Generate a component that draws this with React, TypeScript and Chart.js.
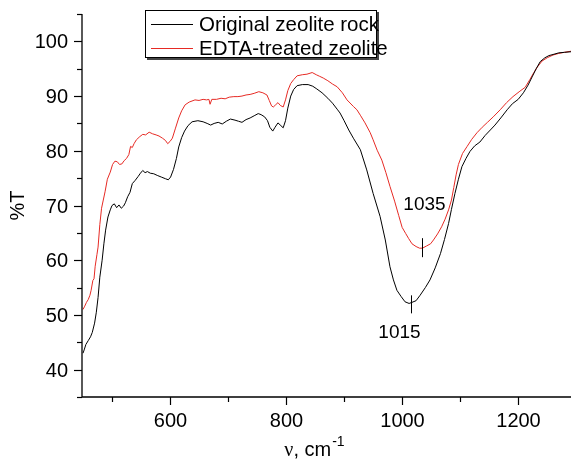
import { useEffect, useRef } from "react";
import { Chart, registerables } from "chart.js";

Chart.register(...registerables);

// ---- data ----
const seriesLabels = ["Original zeolite rock", "EDTA-treated zeolite"];
const seriesColors = ["#000000", "#e62a24"];

const originalX = [
  450, 452, 455, 459, 463, 466, 470, 473, 476, 479, 483, 486, 489, 493, 497, 500, 504, 508, 512, 516,
  520, 523, 527, 531, 535, 540, 545, 549, 553, 557, 561, 566, 572, 578, 585, 592, 597, 601, 606, 611,
  615, 620, 625, 631, 638, 648, 657, 664, 670, 676, 683, 690, 697, 704, 712, 718, 724, 731, 738, 745,
  752, 757, 763, 768, 772, 777, 781, 786, 791, 795, 799, 803, 808, 813, 819, 828, 838, 846, 853, 862,
  872, 880, 888, 893, 900, 908, 916, 928, 939, 950, 962, 971, 979, 985, 991, 998, 1005, 1012, 1017, 1024,
  1031, 1040, 1048, 1057, 1066, 1073, 1080, 1085, 1091, 1097, 1103, 1110, 1117, 1125, 1134, 1143, 1152, 1160, 1170, 1181,
  1190, 1200, 1209, 1217, 1224, 1231, 1238, 1246, 1253, 1260, 1270, 1280, 1291,
];
const originalY = [
  43.0, 43.6, 44.6, 45.3, 46.0, 46.8, 48.5, 50.5, 53.2, 56.9, 60.0, 63.0, 65.5, 67.9, 69.2, 70.0, 70.3, 69.6, 70.1, 69.5,
  69.9, 70.5, 71.6, 72.4, 74.0, 74.6, 75.3, 75.9, 76.4, 76.0, 76.2, 75.9, 75.8, 75.5, 75.2, 74.9, 74.7, 75.2, 76.6, 78.6,
  80.7, 82.4, 83.6, 84.6, 85.3, 85.5, 85.3, 85.0, 84.7, 85.0, 85.2, 84.9, 85.4, 85.8, 85.6, 85.4, 85.2, 85.7, 86.0, 86.4,
  86.8, 86.6, 86.2, 85.5, 84.3, 83.6, 84.3, 85.1, 84.6, 84.2, 85.5, 87.8, 90.0, 91.2, 91.9, 92.1, 92.1, 91.8, 91.3, 90.6,
  89.6, 88.7, 87.6, 86.9, 85.5, 83.8, 82.3, 80.2, 76.5, 72.2, 68.0, 63.7, 58.8, 56.4, 54.5, 53.4, 52.4, 52.1, 52.3, 52.6,
  53.6, 55.0, 56.4, 58.6, 61.2, 63.8, 66.7, 69.3, 72.2, 74.8, 77.1, 78.6, 79.9, 80.9, 81.6, 82.8, 83.8, 84.7, 86.0, 87.5,
  88.6, 89.4, 90.6, 92.0, 93.5, 95.0, 96.3, 97.0, 97.4, 97.6, 97.9, 98.0, 98.1,
];

const edtaX = [
  450, 453, 456, 459, 462, 464, 467, 469, 471, 474, 476, 479, 482, 485, 488, 492, 497, 501, 505, 509,
  513, 517, 521, 525, 529, 532, 535, 538, 542, 548, 553, 558, 564, 570, 576, 581, 587, 592, 596, 600,
  604, 609, 615, 620, 626, 633, 643, 650, 657, 663, 667, 669, 672, 680, 688, 695, 702, 710, 717, 724,
  731, 738, 745, 753, 760, 767, 771, 775, 778, 782, 786, 790, 795, 799, 803, 808, 813, 819, 828, 836,
  845, 852, 858, 864, 872, 880, 888, 897, 905, 916, 922, 928, 936, 945, 950, 957, 965, 972, 979, 987,
  994, 1000, 1006, 1011, 1017, 1024, 1030, 1035, 1042, 1049, 1054, 1061, 1068, 1074, 1080, 1085, 1089, 1093, 1097, 1104,
  1112, 1120, 1129, 1138, 1147, 1157, 1169, 1180, 1191, 1203, 1212, 1220, 1227, 1233, 1241, 1250, 1260, 1270, 1280, 1291,
];
const edtaY = [
  51.0, 51.6, 52.3, 52.8, 53.6, 54.5, 56.3, 56.6, 58.9, 61.0, 62.4, 66.5, 69.5, 71.0, 72.5, 74.8, 76.1, 77.5, 78.1, 78.0,
  77.5, 77.6, 78.2, 78.6, 79.3, 80.8, 80.6, 81.3, 82.0, 82.6, 83.0, 82.9, 83.4, 83.1, 82.9, 82.7, 82.3, 81.9, 81.3, 81.7,
  82.3, 84.0, 86.0, 87.3, 88.4, 88.9, 89.3, 89.2, 89.4, 89.3, 89.4, 88.5, 89.4, 89.4, 89.6, 89.5, 89.8, 89.9, 89.9, 90.0,
  90.2, 90.3, 90.5, 90.8, 90.6, 90.2, 89.2, 88.2, 88.0, 88.4, 88.8, 88.3, 88.0, 89.3, 91.0, 92.3, 93.0, 93.7, 93.9, 94.0,
  94.3, 93.9, 93.6, 93.3, 92.8, 92.2, 91.7, 90.6, 89.3, 88.1, 87.5, 86.5, 85.1, 83.3, 82.0, 80.1, 78.3, 76.0, 73.5, 70.8,
  68.2, 66.0, 64.9, 64.0, 63.0, 62.5, 62.2, 62.2, 62.6, 63.0, 63.7, 64.8, 66.1, 67.5, 69.2, 71.0, 73.3, 75.6, 77.5, 79.5,
  80.8, 82.1, 83.3, 84.3, 85.2, 86.2, 87.5, 88.8, 89.9, 90.9, 91.6, 93.0, 94.3, 95.3, 96.4, 97.0, 97.5, 97.8, 98.0, 98.2,
];

const xMajorTicks = [600, 800, 1000, 1200];
const xMinorTicks = [500, 700, 900, 1100];
const yMajorTicks = [40, 50, 60, 70, 80, 90, 100];
const yMinorTicks = [35, 45, 55, 65, 75, 85, 95, 105];

const xRange = [448.3, 1291];
const yRange = [35, 105];

const peakWavenumbers = [1015, 1035];
const peakValues = [52.3, 62.2];

const yTitle = "%T";
const xTitleMain = "cm";
const xTitleSup = "-1";

const SANS = '"Liberation Sans", Arial, sans-serif';
const SERIF = '"Liberation Serif", "Times New Roman", serif';

const overlay = {
  id: "overlay",
  afterDraw(chart: any) {
    const ctx: CanvasRenderingContext2D = chart.ctx;
    const xs = chart.scales.x;
    const ys = chart.scales.y;
    const { left, right, top, bottom } = chart.chartArea;
    ctx.save();
    ctx.strokeStyle = "#000";
    ctx.fillStyle = "#000";
    ctx.lineWidth = 1.3;

    // axes
    ctx.beginPath();
    ctx.moveTo(left, top);
    ctx.lineTo(left, bottom);
    ctx.lineTo(right, bottom);
    ctx.stroke();

    ctx.lineWidth = 1.2;
    const vline = (x: number, y1: number, y2: number) => {
      ctx.beginPath();
      ctx.moveTo(x, y1);
      ctx.lineTo(x, y2);
      ctx.stroke();
    };
    const hline = (y: number, x1: number, x2: number) => {
      ctx.beginPath();
      ctx.moveTo(x1, y);
      ctx.lineTo(x2, y);
      ctx.stroke();
    };

    // x ticks
    for (const v of xMinorTicks) vline(Math.round(xs.getPixelForValue(v)) + 0.5, bottom, bottom + 5);
    ctx.font = `20px ${SANS}`;
    ctx.textAlign = "center";
    ctx.textBaseline = "middle";
    for (const v of xMajorTicks) {
      const p = Math.round(xs.getPixelForValue(v)) + 0.5;
      vline(p, bottom, bottom + 8);
      ctx.fillText(String(v), p, bottom + 24);
    }

    // y ticks
    for (const v of yMinorTicks) hline(Math.round(ys.getPixelForValue(v)) + 0.5, left - 5, left);
    ctx.textAlign = "right";
    for (const v of yMajorTicks) {
      const p = Math.round(ys.getPixelForValue(v)) + 0.5;
      hline(p, left - 8, left);
      ctx.fillText(String(v), left - 14, p + 1);
    }

    // y title
    ctx.save();
    ctx.translate(18, (top + bottom) / 2);
    ctx.rotate(-Math.PI / 2);
    ctx.textAlign = "center";
    ctx.textBaseline = "middle";
    ctx.font = `20px ${SANS}`;
    ctx.fillText(yTitle, 0, 0);
    ctx.restore();

    // x title: "ν, cm" with superscript -1
    ctx.textBaseline = "alphabetic";
    ctx.textAlign = "left";
    ctx.font = `20px ${SERIF}`;
    const nu = "ν";
    const wNu = ctx.measureText(nu).width;
    ctx.font = `20px ${SANS}`;
    const rest = ", " + xTitleMain;
    const wRest = ctx.measureText(rest).width;
    ctx.font = `14px ${SANS}`;
    const wSup = ctx.measureText(xTitleSup).width;
    const total = wNu + wRest + 1 + wSup;
    const cx = (left + right) / 2 - 12;
    let tx = cx - total / 2;
    const baseY = 456;
    ctx.font = `20px ${SERIF}`;
    ctx.fillText(nu, tx, baseY);
    tx += wNu;
    ctx.font = `20px ${SANS}`;
    ctx.fillText(rest, tx, baseY);
    tx += wRest + 1;
    ctx.font = `14px ${SANS}`;
    ctx.fillText(xTitleSup, tx, baseY - 10);

    // peak annotations
    ctx.lineWidth = 1;
    ctx.font = `19px ${SANS}`;
    ctx.textAlign = "center";
    ctx.textBaseline = "middle";
    {
      const px = Math.round(xs.getPixelForValue(peakWavenumbers[0])) + 0.5;
      const py = ys.getPixelForValue(peakValues[0]);
      vline(px, py - 7, py + 11);
      ctx.fillText(String(peakWavenumbers[0]), px - 12, py + 30);
    }
    {
      const px = Math.round(xs.getPixelForValue(peakWavenumbers[1])) + 0.5;
      const py = ys.getPixelForValue(peakValues[1]);
      vline(px, py - 10, py + 9);
      ctx.fillText(String(peakWavenumbers[1]), px + 2, py - 43);
    }

    // legend
    const bx = 145, by = 10, bw = 232, bh = 48;
    ctx.fillStyle = "#444";
    ctx.fillRect(bx + bw, by + 2, 2, bh);
    ctx.fillRect(bx + 2, by + bh, bw, 2);
    ctx.fillStyle = "#fff";
    ctx.fillRect(bx, by, bw, bh);
    ctx.strokeStyle = "#000";
    ctx.lineWidth = 1;
    ctx.strokeRect(bx + 0.5, by + 0.5, bw - 1, bh - 1);
    ctx.font = `20.5px ${SANS}`;
    ctx.textAlign = "left";
    ctx.textBaseline = "middle";
    seriesLabels.forEach((lab, i) => {
      const ly = by + 14 + i * 24;
      ctx.strokeStyle = seriesColors[i];
      ctx.beginPath();
      ctx.moveTo(151, ly + 0.5);
      ctx.lineTo(193, ly + 0.5);
      ctx.stroke();
      ctx.fillStyle = "#000";
      ctx.fillText(lab, 199, ly + 1);
    });
    ctx.restore();
  },
};

export default function App() {
  const ref = useRef<HTMLCanvasElement>(null);
  useEffect(() => {
    const canvas = ref.current!;
    const chart = new Chart(canvas, {
      type: "line",
      data: {
        datasets: [
          {
            label: seriesLabels[0],
            data: originalX.map((x, i) => ({ x, y: originalY[i] })),
            borderColor: seriesColors[0],
            borderWidth: 1,
            pointRadius: 0,
            tension: 0,
            fill: false,
          },
          {
            label: seriesLabels[1],
            data: edtaX.map((x, i) => ({ x, y: edtaY[i] })),
            borderColor: seriesColors[1],
            borderWidth: 1,
            pointRadius: 0,
            tension: 0,
            fill: false,
          },
        ],
      },
      options: {
        animation: false,
        responsive: false,
        devicePixelRatio: 1,
        parsing: false as any,
        layout: { padding: { top: 14, right: 0, left: 0, bottom: 0 } },
        plugins: { legend: { display: false }, tooltip: { enabled: false } },
        scales: {
          x: {
            type: "linear",
            min: xRange[0],
            max: xRange[1],
            grid: { display: false },
            border: { display: false },
            ticks: { display: false },
            afterFit: (s: any) => {
              s.height = 65;
            },
          },
          y: {
            type: "linear",
            min: yRange[0],
            max: yRange[1],
            grid: { display: false },
            border: { display: false },
            ticks: { display: false },
            afterFit: (s: any) => {
              s.width = 82;
            },
          },
        },
      },
      plugins: [overlay],
    });
    return () => chart.destroy();
  }, []);
  return (
    <div style={{ position: "absolute", left: 0, top: 0, width: 571, height: 462, background: "#fff" }}>
      <canvas ref={ref} width={571} height={462} style={{ display: "block" }} />
    </div>
  );
}
